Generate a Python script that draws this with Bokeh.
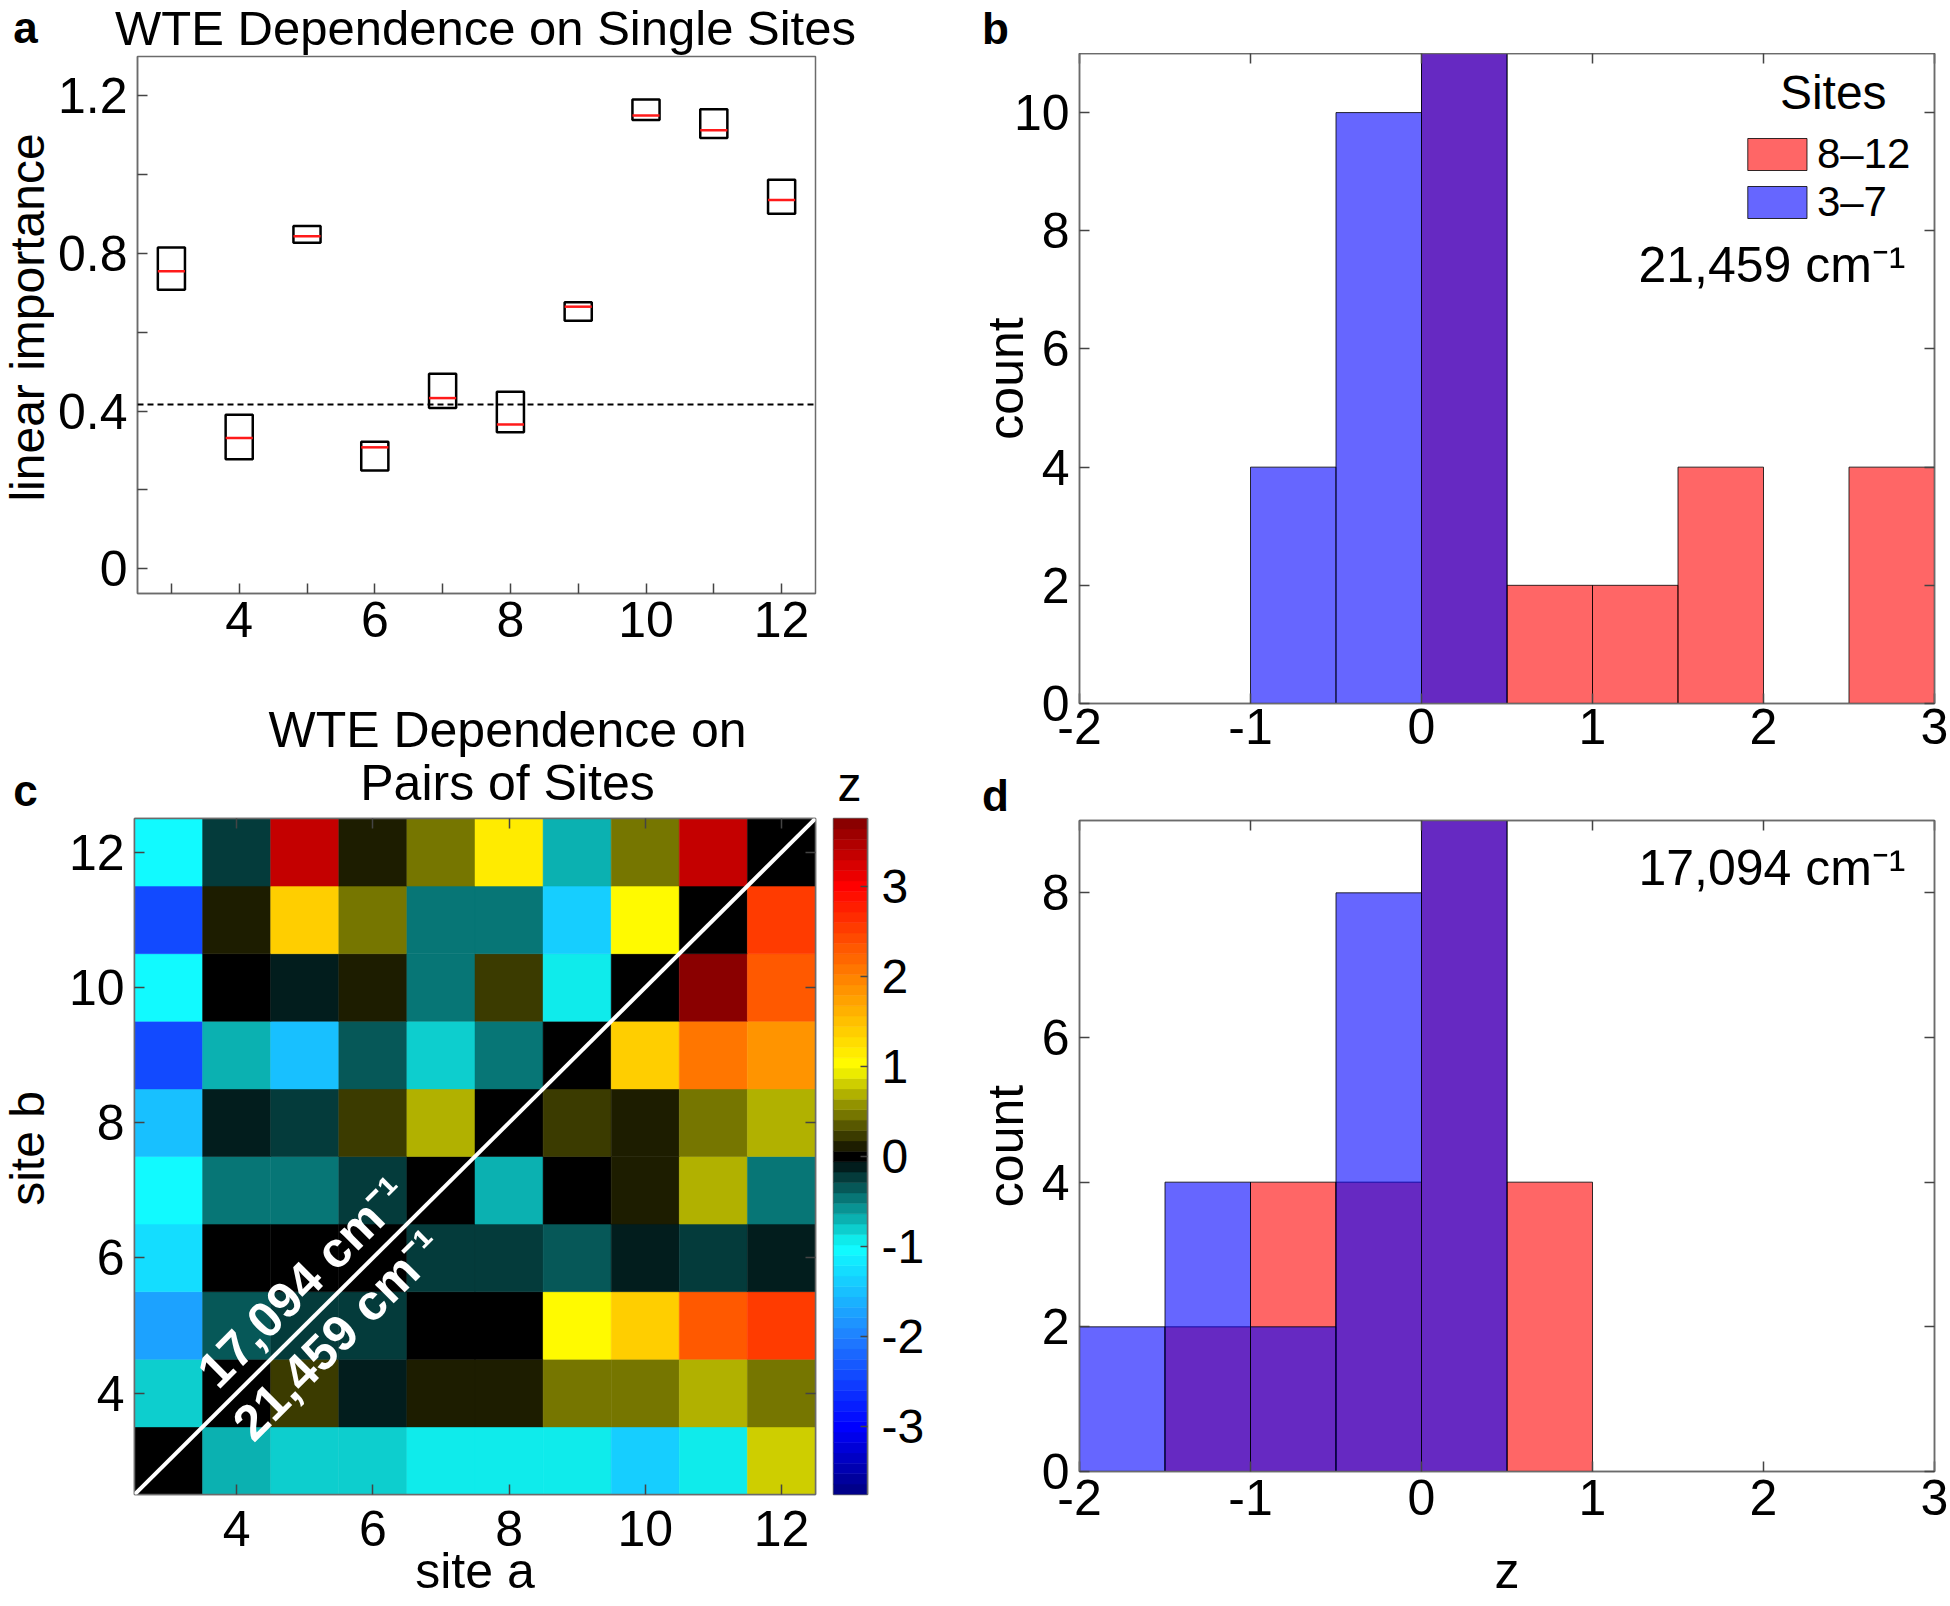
import numpy as np
from bokeh.plotting import figure
from bokeh.models import (ColumnDataSource, FixedTicker, LinearAxis, Span, Label,
                          Slope, Legend, LegendItem, LinearColorMapper, Range1d)
from bokeh.layouts import row, column
from bokeh.core.properties import value
from bokeh.embed import file_html
from bokeh.resources import INLINE

FONT = "Liberation Sans"
AXC = "#6b6b6b"

# ---------------- data ----------------
sites = [3, 4, 5, 6, 7, 8, 9, 10, 11, 12]
box_top = [0.815, 0.391, 0.870, 0.322, 0.495, 0.449, 0.676, 1.191, 1.166, 0.987]
box_bottom = [0.708, 0.278, 0.827, 0.249, 0.408, 0.346, 0.629, 1.139, 1.093, 0.901]
box_median = [0.755, 0.332, 0.844, 0.308, 0.433, 0.366, 0.665, 1.150, 1.113, 0.936]
baseline_importance = 0.417

z_bin_edges = [-2.0, -1.5, -1.0, -0.5, 0.0, 0.5, 1.0, 1.5, 2.0, 2.5, 3.0]
b_counts_8_12 = [0, 0, 0, 0, 11, 2, 2, 4, 0, 4]
b_counts_3_7 = [0, 0, 4, 10, 11, 0, 0, 0, 0, 0]
d_counts_8_12 = [0, 2, 4, 4, 9, 4, 0, 0, 0, 0]
d_counts_3_7 = [2, 4, 2, 8, 9, 0, 0, 0, 0, 0]

# pair z values, one list per site b, ordered by site a = 3..12
z_b12 = [-1.02, -0.20, 3.30, 0.13, 0.42, 1.18, -0.66, 0.42, 3.37, 0.00]
z_b11 = [-2.44, 0.13, 1.33, 0.42, -0.44, -0.44, -1.43, 1.00, 0.00, 2.50]
z_b10 = [-1.02, 0.00, -0.09, 0.13, -0.44, 0.27, -0.88, 0.00, 3.70, 2.25]
z_b9 = [-2.44, -0.66, -1.50, -0.33, -0.78, -0.44, 0.00, 1.33, 2.12, 1.87]
z_b8 = [-1.50, -0.13, -0.20, 0.27, 0.72, 0.00, 0.27, 0.13, 0.42, 0.72]
z_b7 = [-1.02, -0.44, -0.44, -0.20, 0.00, -0.66, 0.00, 0.15, 0.72, -0.44]
z_b6 = [-1.24, 0.00, 0.00, 0.00, -0.20, -0.20, -0.33, -0.09, -0.20, -0.09]
z_b5 = [-1.69, -0.33, -0.20, -0.20, 0.00, 0.00, 1.00, 1.33, 2.25, 2.50]
z_b4 = [-0.78, 0.00, 0.27, -0.09, 0.13, 0.13, 0.42, 0.42, 0.72, 0.42]
z_b3 = [0.00, -0.66, -0.78, -0.78, -0.88, -0.88, -0.88, -1.43, -0.88, 0.85]
pair_rows = {3: z_b3, 4: z_b4, 5: z_b5, 6: z_b6, 7: z_b7,
             8: z_b8, 9: z_b9, 10: z_b10, 11: z_b11, 12: z_b12}

site_ticks = [4, 6, 8, 10, 12]
site_minor = [3, 5, 7, 9, 11]
imp_ticks = [0, 0.4, 0.8, 1.2]
imp_minor = [0.2, 0.6, 1.0]
z_ticks = [-2, -1, 0, 1, 2, 3]
b_count_ticks = [0, 2, 4, 6, 8, 10]
d_count_ticks = [0, 2, 4, 6, 8]
cbar_ticks = [-3, -2, -1, 0, 1, 2, 3]

# colormap anchors (z value -> rgb)
cmap_z = [-3.75, -3.0, -2.0, -1.0, 0.0, 1.0, 2.0, 3.0, 3.75]
cmap_rgb = [(0, 0, 128), (0, 0, 255), (32, 128, 255), (16, 255, 255), (0, 0, 0),
            (255, 255, 0), (255, 128, 0), (255, 0, 0), (128, 0, 0)]
CB_LOW, CB_HIGH, NCOL = -3.75, 3.75, 65

# ---------------- helpers ----------------
step = (CB_HIGH - CB_LOW) / NCOL
centers = np.linspace(CB_LOW + step / 2, CB_HIGH - step / 2, NCOL)
rgb = np.array(cmap_rgb, dtype=float)
palette = []
for c in centers:
    r, g, b = (int(round(np.interp(c, cmap_z, rgb[:, k]))) for k in range(3))
    palette.append("#%02x%02x%02x" % (r, g, b))
mapper = LinearColorMapper(palette=palette, low=CB_LOW, high=CB_HIGH)

HYPHEN = {t: ("-%g" % abs(t)) for t in [-3, -2, -1]}
UP = np.pi / 2


def style(p, xs_standoff, ys_standoff, size="50px"):
    p.grid.visible = False
    p.outline_line_color = AXC
    p.outline_line_width = 1.5
    p.background_fill_color = "white"
    p.border_fill_color = "white"
    for ax in p.axis:
        ax.axis_line_color = AXC
        ax.axis_line_width = 1.5
        ax.major_tick_line_color = "#444444"
        ax.minor_tick_line_color = "#444444"
        ax.major_tick_line_width = 1.5
        ax.minor_tick_line_width = 1.5
        ax.major_tick_in = 10
        ax.major_tick_out = 0
        ax.minor_tick_in = 10
        ax.minor_tick_out = 0
        ax.major_label_text_font = FONT
        ax.major_label_text_font_size = size
        ax.major_label_text_color = "black"
        ax.axis_label_text_font = FONT
        ax.axis_label_text_font_size = "50px"
        ax.axis_label_text_font_style = "normal"
        ax.axis_label_text_color = "black"
    for ax in p.xaxis:
        ax.major_label_standoff = xs_standoff
    for ax in p.yaxis:
        ax.major_label_standoff = ys_standoff


def mirror(p, xt, yt):
    """Tick marks on the top and right edges (no labels)."""
    for loc, t in (("above", xt), ("right", yt)):
        ax = LinearAxis(ticker=FixedTicker(ticks=t), major_label_text_font_size="1px",
                        major_label_text_color=None, major_label_text_alpha=0,
                        major_label_standoff=0, axis_line_color=AXC, axis_line_width=1.5,
                        major_tick_in=10, major_tick_out=0, major_tick_line_color="#444444",
                        major_tick_line_width=1.5, minor_tick_line_color=None)
        p.add_layout(ax, loc)


def lab(p, frame, xr, yr, px, py, text, size, bold=False, angle=0.0, align="center",
        color="black"):
    fx0, fy0, fx1, fy1 = frame
    x = xr[0] + (px - fx0) / (fx1 - fx0) * (xr[1] - xr[0])
    y = yr[1] - (py - fy0) / (fy1 - fy0) * (yr[1] - yr[0])
    p.add_layout(Label(x=x, y=y, text=text, text_font=FONT, text_font_size=f"{size}px",
                       text_font_style="bold" if bold else "normal", angle=angle,
                       text_align=align, text_baseline="middle", text_color=color))


def common(**kw):
    return dict(output_backend="svg", toolbar_location=None, **kw)


def strip(x0, y0, w, h, items):
    """Text-only figure whose frame is the whole area (page pixel coordinates)."""
    s = figure(width=w, height=h, x_range=Range1d(x0, x0 + w), y_range=Range1d(y0 + h, y0),
               x_axis_location=None, y_axis_location=None, min_border=0,
               outline_line_color=None, **common())
    s.frame_align = False
    s.grid.visible = False
    for it in items:
        px, py, text, size, bold = it[:5]
        ang = it[5] if len(it) > 5 else 0.0
        s.text(x=[px], y=[py], text=[text], text_font=value(FONT),
               text_font_size=value(f"{size}px"),
               text_font_style="bold" if bold else "normal", angle=ang,
               text_align="center", text_baseline="middle", text_color="black")
    return s


# ---------------- panel a ----------------
XA, YA = (2.5, 12.5), (-0.063, 1.30)
pa = figure(width=904, height=645, x_range=Range1d(*XA), y_range=Range1d(*YA),
            min_border_left=80, min_border_right=143, min_border_top=1,
            min_border_bottom=107, **common())
pa.xaxis.ticker = FixedTicker(ticks=site_ticks, minor_ticks=site_minor)
pa.yaxis.ticker = FixedTicker(ticks=imp_ticks, minor_ticks=imp_minor)
pa.yaxis.major_label_overrides = {0: "0"}
style(pa, 8, 10)
half = 0.2
src_a = ColumnDataSource(dict(
    left=[s - half for s in sites], right=[s + half for s in sites],
    top=box_top, bottom=box_bottom, med=box_median))
pa.add_layout(Span(location=baseline_importance, dimension="width", line_color="black",
                   line_dash="6 4", line_width=2))
pa.quad(left="left", right="right", top="top", bottom="bottom", source=src_a,
        fill_color=None, line_color="black", line_width=2.5)
pa.segment(x0="left", x1="right", y0="med", y1="med", source=src_a,
           line_color="#ff1a1a", line_width=2.5)


# ---------------- histograms ----------------
def hist(p, counts, color):
    keep = [i for i, c in enumerate(counts) if c > 0]
    src = ColumnDataSource(dict(left=[z_bin_edges[i] for i in keep],
                                right=[z_bin_edges[i + 1] for i in keep],
                                top=[counts[i] for i in keep]))
    return p.quad(left="left", right="right", top="top", bottom=0, source=src,
                  fill_color=color, fill_alpha=0.6, line_color="black",
                  line_alpha=0.8, line_width=1)


XB, YB = (-2, 3), (0, 11)
FB = (1079, 53, 1934, 703)
pb = figure(width=990, height=717, x_range=Range1d(*XB), y_range=Range1d(*YB),
            min_border_left=121, min_border_right=14, min_border_top=0,
            min_border_bottom=67, **common())
pb.xaxis.ticker = FixedTicker(ticks=z_ticks)
pb.yaxis.ticker = FixedTicker(ticks=b_count_ticks)
pb.xaxis.major_label_overrides = HYPHEN
pb.yaxis.axis_label = "count"
rb_hi = hist(pb, b_counts_8_12, "#ff0000")
rb_lo = hist(pb, b_counts_3_7, "#0000ff")
style(pb, 5, 10)
pb.yaxis.axis_label_standoff = -23
mirror(pb, z_ticks, b_count_ticks)
leg = Legend(items=[LegendItem(label="8\u201312\u00a0", renderers=[rb_hi]),
                    LegendItem(label="3\u20137\u00a0", renderers=[rb_lo])],
             title="\u00a0\u00a0\u00a0Sites", location="top_right")
leg.title_text_font = FONT
leg.title_text_font_size = "48px"
leg.title_text_font_style = "normal"
leg.title_text_color = "black"
leg.title_standoff = 10
leg.label_text_font = FONT
leg.label_text_font_size = "42px"
leg.label_text_color = "black"
leg.glyph_width = 74
leg.glyph_height = 40
leg.label_standoff = 3
leg.spacing = 0
leg.padding = 3
leg.margin = 12
leg.border_line_color = None
leg.background_fill_alpha = 0
pb.add_layout(leg)
lab(pb, FB, XB, YB, 1905, 264, "21,459 cm\u207b\u00b9", 50, align="right")

XD, YD = (-2, 3), (0, 9)
FD = (1079, 820, 1934, 1471)
pd_ = figure(width=990, height=785, x_range=Range1d(*XD), y_range=Range1d(*YD),
             min_border_left=121, min_border_right=14, min_border_top=1,
             min_border_bottom=133, **common())
pd_.xaxis.ticker = FixedTicker(ticks=z_ticks)
pd_.yaxis.ticker = FixedTicker(ticks=d_count_ticks)
pd_.xaxis.major_label_overrides = HYPHEN
pd_.yaxis.axis_label = "count"
pd_.xaxis.axis_label = "z"
hist(pd_, d_counts_8_12, "#ff0000")
hist(pd_, d_counts_3_7, "#0000ff")
style(pd_, 8, 10)
pd_.yaxis.axis_label_standoff = 5
pd_.xaxis.axis_label_standoff = 25
mirror(pd_, z_ticks, d_count_ticks)
lab(pd_, FD, XD, YD, 1905, 867, "17,094 cm\u207b\u00b9", 50, align="right")

# ---------------- panel c (heatmap) ----------------
XC, YC = (2.5, 12.5), (2.5, 12.5)
pc = figure(width=776, height=788, x_range=Range1d(*XC), y_range=Range1d(*YC),
            min_border_left=80, min_border_right=15, min_border_top=2,
            min_border_bottom=110, **common())
pc.xaxis.ticker = FixedTicker(ticks=site_ticks)
pc.yaxis.ticker = FixedTicker(ticks=site_ticks)
pc.xaxis.axis_label = "site a"
hx, hy, hz = [], [], []
for sb, vals in pair_rows.items():
    for sa, zv in zip(sites, vals):
        hx.append(sa)
        hy.append(sb)
        hz.append(zv)
src_c = ColumnDataSource(dict(a=hx, b=hy, z=hz))
cm = {"field": "z", "transform": mapper}
pc.rect(x="a", y="b", width=1, height=1, source=src_c, fill_color=cm,
        line_color=cm, line_width=0.5)
pc.add_layout(Slope(gradient=1, y_intercept=0, line_color="white", line_width=4))
style(pc, 16, 10)
pc.xaxis.axis_label_standoff = -6
mirror(pc, site_ticks, site_ticks)
for (lx, ly, txt) in ((4.97, 5.64, "17,094 cm\u207b\u00b9"), (5.49, 4.86, "21,459 cm\u207b\u00b9")):
    pc.add_layout(Label(x=lx, y=ly, text=txt, text_font=FONT,
                        text_font_size="50px", text_font_style="bold", text_color="white",
                        angle=np.pi / 4, text_align="center", text_baseline="middle"))

# colour bar as its own small figure
pcb = figure(width=128, height=788, x_range=Range1d(0, 1), y_range=Range1d(CB_LOW, CB_HIGH),
             x_axis_location=None, y_axis_location="right",
             min_border_left=3, min_border_right=91, min_border_top=2,
             min_border_bottom=110, **common())
levels = np.linspace(CB_LOW, CB_HIGH, NCOL + 1)
pcb.quad(left=0, right=1, bottom=levels[:-1], top=levels[1:], fill_color=palette,
         line_color=palette, line_width=0.5)
pcb.yaxis.ticker = FixedTicker(ticks=cbar_ticks)
pcb.yaxis.major_label_overrides = HYPHEN
style(pcb, 14, 14, size="48px")
pcb.yaxis.major_tick_in = 7

# ---------------- text strips ----------------
strip_a = strip(0, 0, 958, 55, [(25, 27, "a", 44, True),
                                (485, 27.5, "WTE Dependence on Single Sites", 49, False)])
ylab_a = strip(0, 55, 54, 645, [(27, 317, "linear importance", 48, False, UP)])
strip_b = strip(958, 0, 990, 53, [(995, 28, "b", 44, True)])
strip_c = strip(0, 700, 958, 116, [(507, 729, "WTE Dependence on", 50, False),
                                   (507, 782, "Pairs of Sites", 50, False),
                                   (25, 790, "c", 44, True),
                                   (849, 784, "z", 48, False)])
ylab_c = strip(0, 816, 54, 788, [(27, 1148, "site b", 48, False, UP)])
strip_d = strip(958, 770, 990, 49, [(995, 795, "d", 44, True)])

left_col = column(strip_a, row(ylab_a, pa), strip_c, row(ylab_c, pc, pcb))
right_col = column(strip_b, pb, strip_d, pd_)
layout = row(left_col, right_col)
open("out.html", "w").write(file_html(layout, INLINE))
